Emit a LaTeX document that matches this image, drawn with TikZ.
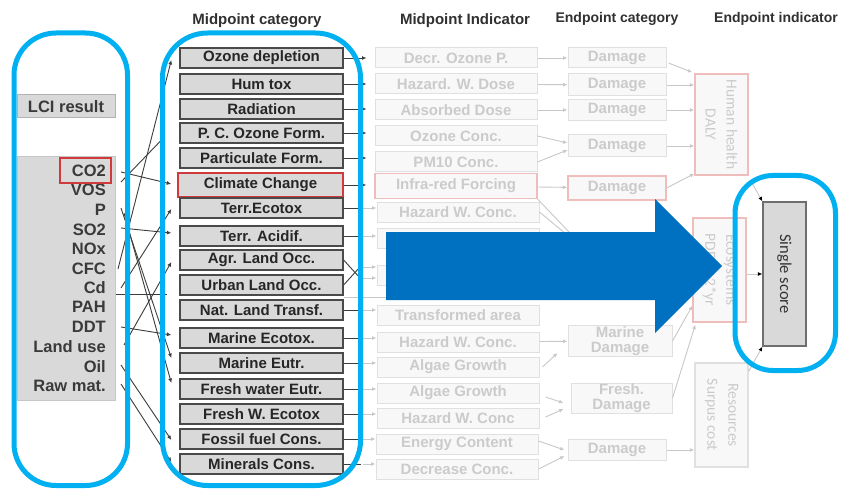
\documentclass[tikz,border=0pt]{standalone}
\usepackage{fontspec}
\setmainfont{Liberation Sans}
\newfontfamily\calib{Carlito}
\usetikzlibrary{arrows.meta,calc}
\definecolor{pillblue}{HTML}{00B0F0}
\definecolor{arrblue}{HTML}{0070C0}
\definecolor{boxgray}{HTML}{D9D9D9}
\definecolor{boxedge}{HTML}{4A4A4A}
\definecolor{txtdark}{HTML}{262626}
\definecolor{lcitxt}{HTML}{3A3A3A}
\definecolor{hdrtxt}{HTML}{303030}
\definecolor{hlred}{HTML}{D03A3A}
\definecolor{fadetxt}{HTML}{CBCBCB}
\definecolor{fadeedge}{HTML}{E0E0E0}
\definecolor{fadefill}{HTML}{F8F8F8}
\definecolor{fadered}{HTML}{F0BDBD}
\definecolor{linkdark}{HTML}{3C3C3C}
\definecolor{linkfade}{HTML}{C8C8C8}
\definecolor{sstxt}{HTML}{333333}
\tikzset{
  midbox/.style={draw=boxedge, fill=boxgray, line width=1.3pt, minimum width=163pt, minimum height=20pt, inner sep=0pt, text=txtdark, font=\bfseries\fontsize{15}{16}\selectfont},
  indbox/.style={draw=fadeedge, fill=fadefill, line width=1pt, minimum width=162pt, minimum height=20pt, inner sep=0pt, text=fadetxt, font=\bfseries\fontsize{15}{16}\selectfont},
  catbox/.style={indbox, minimum width=98pt},
  endbox/.style={draw=fadered, fill=fadefill, line width=1.3pt, minimum width=53pt, inner sep=0pt},
  endtext/.style={rotate=-90, align=center, text=fadetxt, font=\calib\fontsize{15.5}{21}\selectfont, inner sep=0pt},
  lcitext/.style={anchor=east, inner sep=0pt, text=lcitxt, font=\bfseries\fontsize{16.5}{18}\selectfont},
  header/.style={text=hdrtxt, inner sep=0pt, font=\bfseries\fontsize{15}{16}\selectfont},
  dk/.style={draw=linkdark, line width=0.9pt},
  dka/.style={dk, -{Latex[length=4.5pt,width=4pt]}},
  fk/.style={draw=linkfade, line width=0.9pt, -{Latex[length=4.5pt,width=4pt]}},
  sk/.style={draw=linkfade, line width=0.9pt, -{Latex[length=4.5pt,width=4pt,color=black]}},
  pill/.style={draw=pillblue, line width=5pt},
}
\begin{document}
\begin{tikzpicture}[x=1pt,y=-1pt]
\useasboundingbox (0,0) rectangle (845,489);
\fill[white] (0,0) rectangle (845,489);

% headers
\node[header] (h1) at (257,21) {Midpoint category};
\node[header] (h2) at (465,21) {Midpoint Indicator};
\node[header, font=\bfseries\fontsize{14}{15}\selectfont] (h3) at (617,19) {Endpoint category};
\node[header, font=\bfseries\fontsize{14}{15}\selectfont] (h4) at (776,19) {Endpoint indicator};

% LCI column
\node[draw=gray!60, fill=boxgray, line width=1pt, minimum width=98pt, minimum height=23pt, inner sep=0pt, text=lcitxt, font=\bfseries\fontsize{16.5}{18}\selectfont] (lcir) at (66,106.5) {LCI result};
\node[draw=gray!45, fill=boxgray, line width=1pt, minimum width=98pt, minimum height=243pt, inner sep=0pt] (lcibox) at (66,278.5) {};
\node[lcitext] (co2) at (106,171) {CO2};
\node[lcitext] (vos) at (106,190) {VOS};
\node[lcitext] (p) at (106,210) {P};
\node[lcitext] (so2) at (106,230) {SO2};
\node[lcitext] (nox) at (106,249) {NOx};
\node[lcitext] (cfc) at (106,269) {CFC};
\node[lcitext] (cd) at (106,288) {Cd};
\node[lcitext] (pah) at (106,307) {PAH};
\node[lcitext] (ddt) at (106,327) {DDT};
\node[lcitext] (lu) at (106,347) {Land use};
\node[lcitext] (oil) at (106,367) {Oil};
\node[lcitext] (raw) at (106,386) {Raw mat.};
\node[draw=hlred, line width=1.6pt, minimum width=51pt, minimum height=25pt, inner sep=0pt] (co2box) at (85.5,170.5) {};

% midpoint categories
\node[midbox] (m1) at (261.5,58) {Ozone depletion};
\node[midbox] (m2) at (261.5,84) {Hum tox};
\node[midbox] (m3) at (261.5,109) {Radiation};
\node[midbox] (m4) at (261.5,133) {P. C. Ozone Form.};
\node[midbox] (m5) at (261.5,158) {Particulate Form.};
\node[midbox, draw=hlred, line width=1.6pt, minimum height=24pt, minimum width=165pt] (m6) at (260.5,185) {Climate Change};
\node[midbox] (m7) at (261.5,208) {Terr.Ecotox};
\node[midbox] (m8) at (261.5,236) {Terr. Acidif.};
\node[midbox] (m9) at (261.5,260) {Agr. Land Occ.};
\node[midbox] (m10) at (261.5,285) {Urban Land Occ.};
\node[midbox] (m11) at (261.5,310) {Nat. Land Transf.};
\node[midbox] (m12) at (261.5,338) {Marine Ecotox.};
\node[midbox] (m13) at (261.5,363) {Marine Eutr.};
\node[midbox] (m14) at (261.5,389) {Fresh water Eutr.};
\node[midbox] (m15) at (261.5,414) {Fresh W. Ecotox};
\node[midbox] (m16) at (261.5,439) {Fossil fuel Cons.};
\node[midbox] (m17) at (261.5,464) {Minerals Cons.};

% midpoint indicators
\node[indbox] (i1) at (456,58) {Decr. Ozone P.};
\node[indbox] (i2) at (456,84) {Hazard. W. Dose};
\node[indbox] (i3) at (456,110) {Absorbed Dose};
\node[indbox] (i4) at (456,136) {Ozone Conc.};
\node[indbox] (i5) at (456,162) {PM10 Conc.};
\node[indbox, draw=fadered, line width=1.3pt, minimum height=25pt] (i6) at (456,186) {Infra-red Forcing};
\node[indbox] (i7) at (458,212) {Hazard W. Conc.};
\node[indbox] (i8) at (458,238) {};
\node[indbox] (i9) at (458,275) {};
\node[indbox] (i10) at (458,315) {Transformed area};
\node[indbox] (i11) at (458,342) {Hazard W. Conc.};
\node[indbox] (i12) at (458,367) {Algae Growth};
\node[indbox] (i13) at (458,393) {Algae Growth};
\node[indbox] (i14) at (458,418) {Hazard W. Conc};
\node[indbox] (i15) at (457,444) {Energy Content};
\node[indbox] (i16) at (457,469) {Decrease Conc.};

% endpoint categories
\node[catbox] (c1) at (617,58) {Damage};
\node[catbox, minimum height=22pt] (c2) at (617,85) {Damage};
\node[catbox, minimum height=21pt] (c3) at (617,110) {Damage};
\node[catbox, minimum height=22pt] (c4) at (617,146) {Damage};
\node[catbox, draw=fadered, line width=1.3pt, minimum height=24pt] (c5) at (617,188) {Damage};
\node[catbox, minimum width=104pt, minimum height=31pt, align=center, font=\bfseries\fontsize{15}{15}\selectfont] (c6) at (620,341) {Marine\\Damage};
\node[catbox, minimum width=101pt, minimum height=30pt, align=center, font=\bfseries\fontsize{15}{15}\selectfont] (c7) at (621.5,398) {Fresh.\\Damage};
\node[catbox, minimum height=21pt] (c8) at (617,450) {Damage};

% endpoint indicators
\node[endbox, minimum height=101pt] (e1) at (721.5,124.5) {};
\node[endtext] (e1t) at (e1.center) {Human health\\DALY};
\node[endbox, minimum height=104pt] (e2) at (719.5,270) {};
\node[endtext] (e2t) at (e2.center) {Ecosystems\\PDF*m2*yr};
\node[endbox, draw=fadeedge, minimum height=104pt] (e3) at (721.5,415) {};
\node[endtext] (e3t) at (e3.center) {Resources\\Surpus cost};

% single score
\node[draw=boxedge!80, fill=boxgray, line width=1.2pt, minimum width=43pt, minimum height=144pt, inner sep=0pt] (s) at (784.5,274) {};
\node[rotate=-90, inner sep=0pt, text=sstxt, font=\calib\fontsize{16.5}{18}\selectfont] (st) at (s.center) {Single score};

% LCI -> midpoint links
\draw[dka] ($(co2.east)+(15,1)$) -- ($(m6.west)+(-6,-1)$);
\draw[dka] ($(vos.east)+(15,-8)$) -- ($(m4.west)+(-15,4)$);
\draw[dka] ($(cfc.east)+(12,0)$) -- ($(m1.west)+(-8,2)$);
\draw[dka] ($(p.east)+(15,-2)$) -- ($(m13.west)+(-8,-5)$);
\draw[dka] ($(p.east)+(18,3)$) -- ($(m14.west)+(-8,-6)$);
\draw[dka] ($(so2.east)+(15,-2)$) -- ($(m8.west)+(-8,-3)$);
\draw[dka] ($(cd.east)+(15,0)$) -- ($(m7.west)+(-8,1)$);
\draw[dka] ($(lu.east)+(18,-2)$) -- ($(m9.west)+(-8,2)$);
\draw[dka] ($(ddt.east)+(15,0)$) -- ($(m12.west)+(-8,-3)$);
\draw[dka] ($(oil.east)+(15,-2)$) -- ($(m16.west)+(-8,1)$);
\draw[dka] ($(raw.east)+(15,-2)$) -- ($(m17.west)+(-8,-2)$);
\coordinate (hz) at (167,294);
\draw[dk] (lcibox.east |- hz) -- (hz);
\coordinate (hz2) at (540,297);
\draw[draw=linkfade, line width=0.7pt] (m10.east |- hz2) -- (hz2);

% midpoint -> indicator links
\foreach \a in {1,...,6}{
  \draw[dka, shorten >=8pt] (m\a.east) -- (m\a.east -| i\a.west);
}
\foreach \a/\b in {7/7,8/8,11/10,12/11,13/12,14/13,15/14,16/15,17/16}{
  \draw[dk] (m\a.east) -- ++(17,0);
  \draw[fk] ($(m\a.east)+(19,0)$) -- (m\a.east -| i\b.west);
}
\coordinate (j9) at (360,278);
\coordinate (j10) at (360,267);
\draw[dk] (m9.east) -- (j9);
\draw[fk] (j9) -- (j9 -| i9.west);
\draw[dk] (m10.east) -- (j10);
\draw[fk] (j10) -- (j10 -| i9.west);

% indicator -> endpoint category links
\draw[fk] (i1) -- (c1);
\draw[fk] (i2) -- (c2);
\draw[fk] (i3) -- (c3);
\draw[fk] (i4.east) -- ($(c4.west)+(0,-3)$);
\draw[fk] (i5.east) -- ($(c4.west)+(0,4)$);
\draw[fk] (i6) -- (c5);
\coordinate (hida) at (590,254);
\draw[draw=linkfade, line width=0.9pt] (i6.south east) -- (hida);
\draw[draw=linkfade, line width=0.9pt] (i7.east) -- (hida);
\draw[fk] (i11) -- (c6);
\draw[fk] ($(i12.east)+(3,0)$) -- ($(c6.south west)+(-10,-4)$);
\draw[fk] ($(i13.east)+(6,4)$) -- ($(c7.west)+(-7,5)$);
\draw[fk] ($(i14.east)+(6,-1)$) -- ($(c7.west)+(-7,11)$);
\draw[fk] ($(i15.east)+(0,-3)$) -- ($(c8.west)+(-3,0)$);
\draw[fk] (i16.east) -- ($(c8.west)+(-3,6)$);

% endpoint category -> endpoint indicator links
\draw[fk] ($(c1.east)+(2,5)$) -- ($(e1.north west)+(-2,-1)$);
\draw[fk] (c2.east) -- (c2.east -| e1.west);
\draw[fk] (c3.east) -- (c3.east -| e1.west);
\draw[fk] (c4.east) -- (c4.east -| e1.west);
\draw[fk] (c5.east) -- ($(e1.south west)+(0,-2)$);
\draw[fk] (c6.east) -- ($(e2.south west)+(0,-17)$);
\draw[fk] (c7.east) -- ($(e2.south west)+(3,2)$);
\draw[fk] (c8.east) -- (c8.east -| e3.west);

% endpoint indicator -> single score
\draw[sk] ($(e1.south east)+(2,5)$) -- (s.north west);
\draw[sk] ($(e2.east)+(0,4)$) -- ($(e2.east -| s.west)+(0,4)$);
\draw[sk] ($(e3.north east)+(0,9)$) -- (s.south west);

% blue highlight pills
\draw[pill, rounded corners=42pt] (14,33) rectangle (127.5,485.5);
\draw[pill, rounded corners=45pt] (162.5,33) rectangle (360.5,485.5);
\draw[pill, rounded corners=38pt] (735,175.5) rectangle (835.5,370.5);

% big blue arrow
\fill[arrblue] (386,232) -- (655,232) -- (655,199) -- (722,266) -- (655,333) -- (655,300) -- (386,300) -- cycle;
\end{tikzpicture}
\end{document}
